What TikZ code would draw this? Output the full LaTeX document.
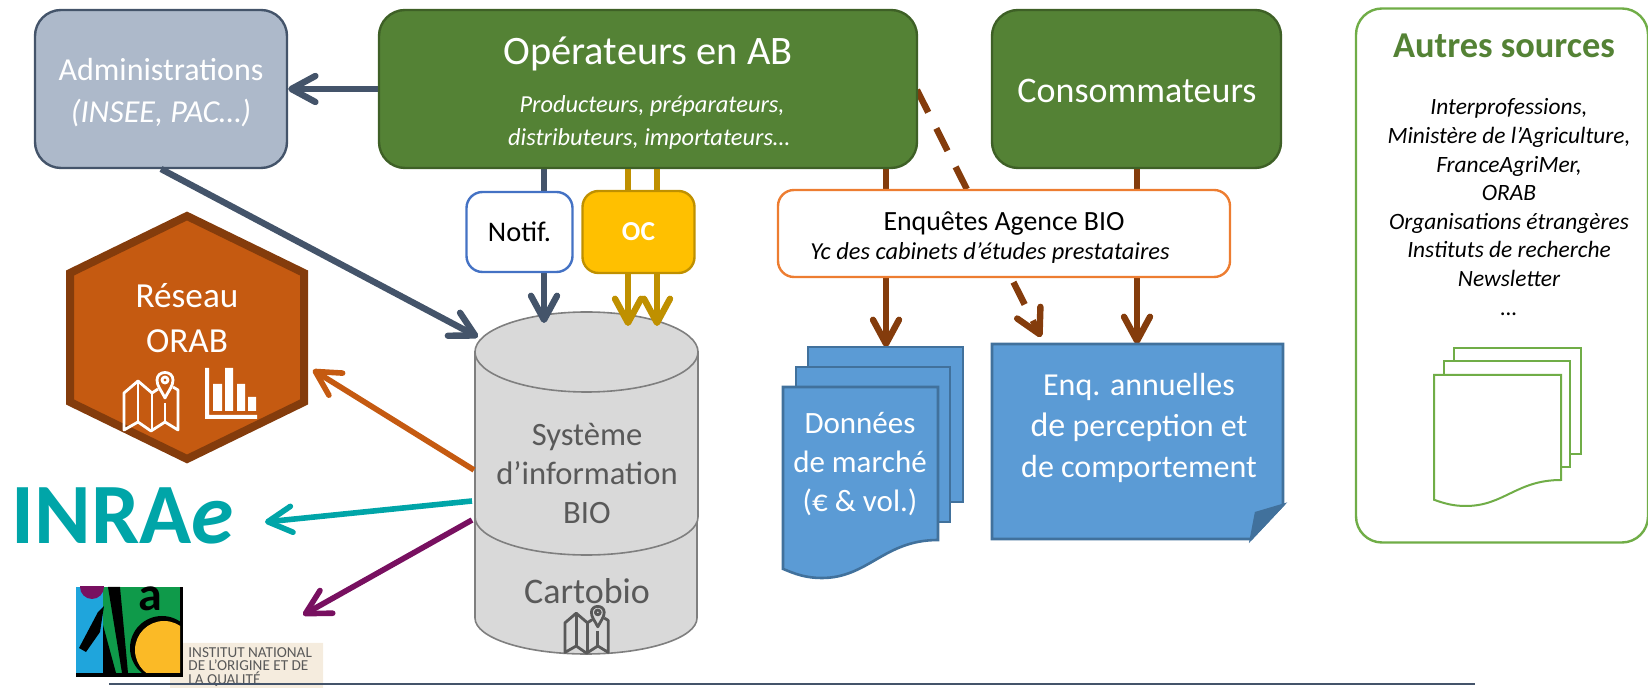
\documentclass[tikz,border=0pt]{standalone}
\usepackage{fontspec}
\setmainfont{Carlito}
\usetikzlibrary{shapes,arrows.meta}
\definecolor{ab_green}{RGB}{84, 130, 53}
\definecolor{ab_dgreen}{RGB}{62, 96, 38}
\definecolor{ab_lgreen}{RGB}{112, 173, 71}
\definecolor{ab_slate}{RGB}{68, 84, 106}
\definecolor{ab_lslate}{RGB}{173, 185, 202}
\definecolor{ab_gold}{RGB}{191, 144, 0}
\definecolor{ab_yellow}{RGB}{255, 192, 0}
\definecolor{ab_brown}{RGB}{132, 60, 12}
\definecolor{ab_orange}{RGB}{197, 90, 17}
\definecolor{ab_lorange}{RGB}{237, 125, 49}
\definecolor{ab_teal}{RGB}{0, 165, 168}
\definecolor{ab_plum}{RGB}{120, 16, 96}
\definecolor{ab_blue}{RGB}{91, 155, 213}
\definecolor{ab_dblue}{RGB}{65, 113, 156}
\definecolor{ab_nblue}{RGB}{68, 114, 196}
\definecolor{ab_grey}{RGB}{217, 217, 217}
\definecolor{ab_dgrey}{RGB}{127, 127, 127}
\definecolor{ab_tgrey}{RGB}{89, 89, 89}
\definecolor{ab_beige}{RGB}{245, 236, 222}
\definecolor{inao_blue}{RGB}{31, 165, 220}
\definecolor{inao_green}{RGB}{15, 154, 74}
\definecolor{inao_yellow}{RGB}{251, 186, 38}
\tikzstyle{adm}=[rectangle,rounded corners=13pt,fill=ab_lslate,draw=ab_slate,
  line width=1.2pt,inner sep=0pt,minimum width=126pt,minimum height=79pt]
\tikzstyle{opb}=[rectangle,rounded corners=13pt,fill=ab_green,draw=ab_dgreen,
  line width=1.2pt,inner sep=0pt,minimum height=79pt]
\tikzstyle{notif}=[rectangle,rounded corners=8pt,fill=white,draw=ab_nblue,
  line width=1.2pt,inner sep=0pt,minimum width=53pt,minimum height=40pt]
\tikzstyle{ocbox}=[rectangle,rounded corners=8pt,fill=ab_yellow,draw=ab_gold,
  line width=1.2pt,inner sep=0pt,minimum width=56pt,minimum height=41pt]
\tikzstyle{enq}=[rectangle,rounded corners=8pt,fill=white,draw=ab_lorange,
  line width=1.2pt,inner sep=0pt,minimum width=226pt,minimum height=43.5pt]
\tikzstyle{autres}=[rectangle,rounded corners=13pt,fill=white,draw=ab_lgreen,
  line width=1.2pt,inner sep=0pt,minimum width=146pt,minimum height=267pt]
\tikzstyle{hexa}=[fill=ab_orange,draw=ab_brown,line width=4pt,line join=miter]
\tikzstyle{cyl}=[fill=ab_grey,draw=ab_dgrey,line width=0.8pt]
\tikzstyle{bluesheet}=[fill=ab_blue,draw=ab_dblue,line width=1.3pt]
\tikzstyle{greensheet}=[fill=white,draw=ab_lgreen,line width=1pt]
\tikzstyle{txtw}=[text=white,align=center,inner sep=0pt]
\tikzstyle{txtg}=[text=ab_tgrey,align=center,inner sep=0pt]
\tikzstyle{txtk}=[text=black,align=center,inner sep=0pt]
\tikzstyle{conn}=[line width=3.2pt,-{Straight Barb[round,length=12pt,width=13pt]}]
\tikzstyle{thin_conn}=[line width=2.8pt,-{Straight Barb[round,length=12pt,width=13pt]}]
\newcommand{\wavesheet}[6]{
  \draw [style=#1] (#2,#4) -- (#2+#3,#4) -- (#2+#3,#5)
    .. controls (#2+0.65*#3,#5) and (#2+0.55*#3,#5+#6) .. (#2+0.25*#3,#5+#6)
    .. controls (#2+0.15*#3,#5+#6) and (#2+0.08*#3,#5+0.9*#6) .. (#2,#5+0.76*#6) -- cycle;
}
\newcommand{\mapicon}[4]{
  \begin{scope}[shift={(#1,#2)},scale=#3,draw=#4,line width=1.4pt,line join=round]
    \draw (34,17) -- (28,21) -- (14,9) -- (0,21) -- (0,58) -- (14,50) -- (27,59) -- (41,50) -- (54,58) -- (54,18) -- (49,15);
    \draw (14,9) -- (14,50);
    \draw (28,21) -- (28,59);
    \draw (41,31) -- (41,50);
    \draw (41,26) .. controls (37,18) and (33,14) .. (33,8) .. controls (33,-2) and (49,-2) .. (49,8) .. controls (49,14) and (45,18) .. (41,26) -- cycle;
    \draw (41,8) circle (1.5pt);
  \end{scope}
}
\begin{document}
\begin{tikzpicture}[x=0.5pt,y=-0.5pt]
    \useasboundingbox (0,0) rectangle (1648,688);

    \draw [style=cyl] (475,517) -- (475,618) arc[start angle=180,end angle=360,x radius=55.5pt,y radius=18pt] -- (697,517) -- cycle;
    \draw [style=cyl] (475,352) -- (475,517) arc[start angle=180,end angle=360,x radius=55.75pt,y radius=19pt] -- (698,352) -- cycle;
    \draw [style=cyl] (586.5,352) ellipse [x radius=55.75pt,y radius=20pt];

    \coordinate (ops_notif) at (544,169);
    \coordinate (si_notif) at (544,323);
    \coordinate (ops_oca) at (628,169);
    \coordinate (si_oca) at (628,326);
    \coordinate (ops_ocb) at (657,169);
    \coordinate (si_ocb) at (657,326);
    \coordinate (ops_enq) at (886,169);
    \coordinate (doc_enq) at (886,347);
    \coordinate (con_enq) at (1137,169);
    \coordinate (note_enq) at (1137,344);
    \coordinate (ops_dash) at (917,90);
    \coordinate (note_dash) at (1041,337);
    \coordinate (adm_si) at (161,169);
    \coordinate (si_adm) at (478,337);
    \coordinate (si_hex) at (474,470);
    \coordinate (hex_si) at (313,370);
    \coordinate (si_inrae) at (472,501);
    \coordinate (inrae_si) at (265,522);
    \coordinate (si_inao) at (472,520);
    \coordinate (inao_si) at (303,615);

    \draw [style=conn,draw=ab_slate] (ops_notif) to (si_notif);
    \draw [style=conn,draw=ab_gold] (ops_oca) to (si_oca);
    \draw [style=conn,draw=ab_gold] (ops_ocb) to (si_ocb);
    \draw [style=conn,draw=ab_brown] (ops_enq) to (doc_enq);
    \draw [style=conn,draw=ab_brown] (con_enq) to (note_enq);
    \draw [style=conn,draw=ab_brown,dash pattern=on 12.5pt off 9pt] (ops_dash) to (note_dash);

    \node [style=adm] (admin) at (161,89) {};
    \node [style=txtw,font=\fontsize{16}{21}\selectfont] (admin_txt) at (161,93) {Administrations\\\textit{(INSEE, PAC…)}};
    \node [style=opb,minimum width=269pt] (ops) at (648,89) {};
    \node [style=txtw,font=\fontsize{20.2}{24}\selectfont] (ops_txt) at (648,54) {Opérateurs en AB};
    \node [style=txtw,font=\itshape\fontsize{12.2}{16.5}\selectfont] (ops_sub) at (649,123) {\hspace*{3pt}Producteurs, préparateurs,\\distributeurs, importateurs…};
    \node [style=opb,minimum width=144.5pt] (conso) at (1136.5,89) {};
    \node [style=txtw,font=\fontsize{18}{22}\selectfont] (conso_txt) at (1137,91) {Consommateurs};

    \draw [style=conn,draw=ab_slate] (ops.west) to (admin.east);
    \draw [style=conn,draw=ab_slate] (adm_si) to (si_adm);

    \node [style=notif,font=\fontsize{14.2}{17}\selectfont] (not) at (519.5,232) {Notif.};
    \node [style=ocbox,text=white,font=\bfseries\fontsize{13.7}{16}\selectfont] (oc) at (638.5,232) {OC};
    \node [style=enq] (enqu) at (1004,233.5) {};
    \node [style=txtk,font=\fontsize{13.9}{17}\selectfont] (enqu_txt) at (1004,224) {Enquêtes Agence BIO};
    \node [style=txtk,font=\itshape\fontsize{12.2}{15}\selectfont] (enqu_sub) at (990,253) {Yc des cabinets d’études prestataires};

    \draw [style=hexa] (187,216) -- (304,273) -- (304,402) -- (187,459) -- (70,402) -- (70,273) -- cycle;
    \node [style=txtw,font=\fontsize{17.6}{22.5}\selectfont] (hex_txt) at (187,318) {Réseau\\ORAB};
    \mapicon{124}{372}{1}{white}
    \fill [white] (205,368) rectangle (209,419) (205,415) rectangle (257,419);
    \fill [white] (213,384) rectangle (222,411) (225,368) rectangle (233,411) (237,384) rectangle (245,411) (248,397) rectangle (256,411);

    \draw [style=thin_conn,draw=ab_orange] (si_hex) to (hex_si);
    \draw [style=thin_conn,draw=ab_teal] (si_inrae) to (inrae_si);
    \draw [style=thin_conn,draw=ab_plum] (si_inao) to (inao_si);

    \node [style=txtg,font=\fontsize{16.3}{19.5}\selectfont] (si_txt) at (587,473) {Système\\d’information\\BIO};
    \node [style=txtg,font=\fontsize{18}{21}\selectfont] (carto_txt) at (587,591) {Cartobio};
    \mapicon{565}{606}{0.8}{ab_tgrey}

    \wavesheet{bluesheet}{808}{155}{347}{502}{0}
    \wavesheet{bluesheet}{796}{154}{367}{522}{0}
    \wavesheet{bluesheet}{783}{155}{387}{540}{38}
    \node [style=txtw,font=\fontsize{15.5}{19.5}\selectfont] (mar_txt) at (860,464) {Données\\de marché\\(€ \& vol.)};

    \draw [style=bluesheet] (992,344) -- (1283,344) -- (1283,505) -- (1251,539) -- (992,539) -- cycle;
    \draw [style=bluesheet,fill=ab_dblue] (1251,539) -- (1256,513) -- (1283,505) -- cycle;
    \node [style=txtw,font=\fontsize{16}{20.5}\selectfont] (note_txt) at (1139,428) {Enq. annuelles\\{\fontsize{17}{20.5}\selectfont de} perception et\\de comportement};

    \node [style=autres] (aut) at (1502,275.5) {};
    \node [style=txtk,text=ab_green,font=\bfseries\fontsize{18.2}{22}\selectfont] (aut_txt) at (1504,46) {Autres sources};
    \node [style=txtk,font=\itshape\fontsize{11.7}{14.3}\selectfont] (aut_sub) at (1509,207) {Interprofessions,\\Ministère de l’Agriculture,\\FranceAgriMer,\\ORAB\\Organisations étrangères\\Instituts de recherche\\Newsletter\\…};
    \wavesheet{greensheet}{1454}{127}{348}{454}{0}
    \wavesheet{greensheet}{1444}{126}{361}{467}{0}
    \wavesheet{greensheet}{1434}{127}{375}{480}{26}

    \node [text=ab_teal,inner sep=0pt,font=\bfseries\fontsize{43}{43}\selectfont] (inrae) at (123,516) {INRA\textit{e}};

    \fill [ab_beige] (183,643) rectangle (323,688) (170,677) rectangle (183,688);
    \fill [black] (76,587) rectangle (183,677);
    \begin{scope}
      \clip (76,587) rectangle (180,673);
      \fill [inao_blue] (76,587) rectangle (103,673);
      \fill [inao_green] (103,587) rectangle (180,673);
      \fill [black] (103,625) -- (103,673) -- (116,673) -- cycle;
      \fill [black] (108,587) -- (120,587) -- (128,673) -- (122,673) -- cycle;
      \fill [ab_plum] (92,587) circle (6pt);
      \fill [black] (79,648) -- (98,612) -- (104,606) -- (100,632) -- (86,652) -- cycle;
      \fill [black] (162,648) circle (16pt);
      \fill [inao_yellow] (164,650) circle (14.5pt);
      \node [inner sep=0pt,font=\bfseries\fontsize{24}{24}\selectfont] (inao_a) at (150,599) {a};
    \end{scope}
    \node [anchor=north west,inner sep=0pt,align=left,text=ab_tgrey,font=\fontsize{7.6}{6.7}\selectfont] (inao_txt) at (188,647) {INSTITUT NATIONAL\\DE L’ORIGINE ET DE\\LA QUALITÉ};

    \coordinate (rule_a) at (109,684);
    \coordinate (rule_b) at (1475,684);
    \draw [draw=ab_slate,line width=1.2pt] (rule_a) to (rule_b);
  \end{tikzpicture}
\end{document}
